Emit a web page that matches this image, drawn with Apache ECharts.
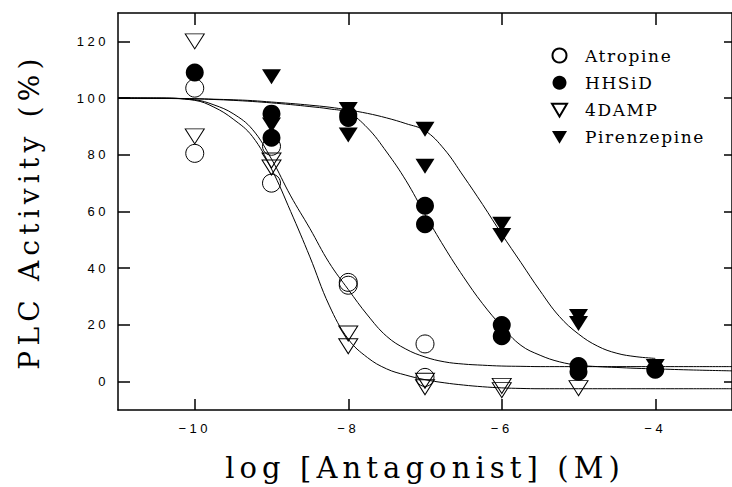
<!DOCTYPE html>
<html><head><meta charset="utf-8">
<script src="https://cdn.jsdelivr.net/npm/echarts@6/dist/echarts.min.js"></script>
<style>
html,body{margin:0;padding:0;background:#fff}
#c{width:732px;height:487px}
#c text[style*="29px"]{letter-spacing:5.1px}
#c text[style*="28px"]{letter-spacing:5.2px}
#c text[style*="17px"]{letter-spacing:1.6px}
#c text[style*="13px"]{letter-spacing:3.5px}
</style>
</head><body><div id="c"></div>
<script>
// ---- data ----
const xTicks = [-10, -8, -6, -4];
const yTicks = [0, 20, 40, 60, 80, 100, 120];
const seriesNames = ['Atropine', 'HHSiD', '4DAMP', 'Pirenzepine'];

const atropinePoints = [[-10,103.5],[-10,80.5],[-9,83],[-9,70],[-8,35],[-8,34],[-7,13.3],[-7,1.5]];
const hhsidPoints = [[-10,109],[-9,94.5],[-9,86],[-8,94],[-8,93],[-7,62],[-7,55.5],[-6,20],[-6,16],[-5,5.5],[-5,3.5],[-4,4.2]];
const damp4Points = [[-10,120],[-10,86.5],[-9,78],[-9,75.5],[-8,17],[-8,12.5],[-7,0.3],[-7,-2],[-6,-1.5],[-6,-3],[-5,-2.3]];
const pirenzepinePoints = [[-9,107.5],[-9,90.5],[-8,96],[-8,87],[-7,89],[-7,76],[-6,55.5],[-6,51.5],[-5,23],[-5,20.5],[-4,5.3]];

const curveX = [-11,-10.5,-10,-9.75,-9.5,-9.25,-9,-8.75,-8.5,-8.25,-8,-7.75,-7.5,-7.25,-7,-6.75,-6.5,-6.25,-6,-5.75,-5.5,-5.25,-5,-4.75,-4.5,-4.25,-4,-3.5,-3];
const atropineCurve = [100,100,99.4,97.6,94.5,89,78.5,65.5,54,42,32.5,23.5,16,11.5,8.7,7,6.2,5.8,5.5,5.4,5.3,5.3,5.3,5.3,5.3,5.3,5.3,5.3,5.3];
const damp4Curve = [100,100,99.2,96.8,92.6,86.5,75,60,44,27,15,8.5,4.5,2.3,0.7,-0.4,-1.2,-1.8,-2.2,-2.4,-2.5,-2.5,-2.5,-2.5,-2.5,-2.5,-2.5,-2.5,-2.5];
const hhsidCurve = [100,99.9,99.7,99.5,99.2,98.8,98.3,97.7,97,96.2,94.8,89.5,81,71,59,47.5,37,27.5,19.5,12.8,9.3,7.0,5.8,5.3,5.0,4.7,4.5,4.1,3.8];
const pirenzepineCurve = [100,99.9,99.8,99.6,99.4,99.1,98.6,98.1,97.5,96.8,95.8,94.6,93,91,88.5,82,72.5,62.5,52,42,32,23,16.8,12.5,10,8.8,8.2,null,null];

// ---- chart ----
const chart = echarts.init(document.getElementById('c'), null, {renderer: 'svg'});
const serif = '"DejaVu Serif", "Liberation Serif", serif';
const sans = '"Liberation Sans", Arial, sans-serif';
const axisLineStyle = {color: '#000', width: 1.5};
const tickStyle = {color: '#000', width: 1.5};
const downTriangle = 'path://M0,0L20,0L10,17Z';

function curve(name, ys) {
  return {
    name: name, type: 'line', xAxisIndex: 0, yAxisIndex: 0,
    data: curveX.map((x, i) => [x, ys[i]]),
    symbol: 'none', smooth: 0.4, connectNulls: false,
    lineStyle: {color: '#000', width: 1}, silent: true, z: 1
  };
}
const openStyle = {color: 'rgba(0,0,0,0)', borderColor: '#000', borderWidth: 1, opacity: 1};
const filledStyle = {color: '#000', borderColor: '#000', borderWidth: 0, opacity: 1};
function scatter(name, pts, symbol, size, rotate, style) {
  return {
    name: name, type: 'scatter', data: pts, symbol: symbol, symbolSize: size,
    symbolRotate: rotate, itemStyle: style, z: 3, silent: true
  };
}

const option = {
  animation: false,
  backgroundColor: '#fff',
  grid: {left: 118, right: -1, top: 13, bottom: 74, containLabel: false},
  xAxis: [{
    type: 'value', min: -11, max: -3, position: 'bottom',
    axisLine: {onZero: false, lineStyle: axisLineStyle},
    axisTick: {inside: true, length: 11, lineStyle: tickStyle, customValues: xTicks},
    axisLabel: {customValues: xTicks, formatter: v => (v < 0 ? '\u2212' : '') + Math.abs(v),
      color: '#000', fontFamily: sans, fontSize: 13, margin: 12},
    splitLine: {show: false},
    name: 'log [Antagonist] (M)', nameLocation: 'middle', nameGap: 43,
    nameTextStyle: {fontFamily: serif, fontSize: 29, color: '#000'}
  }, {
    type: 'value', min: -11, max: -3, position: 'top',
    axisLine: {onZero: false, lineStyle: axisLineStyle},
    axisTick: {inside: true, length: 12, lineStyle: tickStyle, customValues: xTicks},
    axisLabel: {show: false}, splitLine: {show: false}
  }],
  yAxis: [{
    type: 'value', min: -10, max: 130, position: 'left',
    axisLine: {onZero: false, lineStyle: axisLineStyle},
    axisTick: {inside: true, length: 12, lineStyle: tickStyle, customValues: yTicks},
    axisLabel: {customValues: yTicks, color: '#000', fontFamily: sans, fontSize: 13, margin: 9},
    splitLine: {show: false},
    name: 'PLC Activity (%)', nameLocation: 'middle', nameGap: 75, nameRotate: 90,
    nameTextStyle: {fontFamily: serif, fontSize: 28, color: '#000'}
  }, {
    type: 'value', min: -10, max: 130, position: 'right',
    axisLine: {onZero: false, lineStyle: axisLineStyle},
    axisTick: {inside: true, length: 8, lineStyle: tickStyle, customValues: yTicks},
    axisLabel: {show: false}, splitLine: {show: false}
  }],
  legend: {
    data: [
      {name: seriesNames[0], icon: 'circle'},
      {name: seriesNames[1], icon: 'circle'},
      {name: seriesNames[2], icon: downTriangle},
      {name: seriesNames[3], icon: downTriangle}
    ],
    orient: 'vertical', left: 546, top: 42,
    itemWidth: 15, itemHeight: 14, itemGap: 10.3,
    textStyle: {fontFamily: serif, fontSize: 17, color: '#000', padding: [0, 0, 0, 13]},
    selectedMode: false
  },
  series: [
    curve('Atropine fit', atropineCurve),
    curve('4DAMP fit', damp4Curve),
    curve('HHSiD fit', hhsidCurve),
    curve('Pirenzepine fit', pirenzepineCurve),
    scatter('Atropine', atropinePoints, 'circle', 18, 0, openStyle),
    scatter('HHSiD', hhsidPoints, 'circle', 18, 0, filledStyle),
    scatter('4DAMP', damp4Points, 'triangle', [19, 15], 180, openStyle),
    scatter('Pirenzepine', pirenzepinePoints, 'triangle', [19, 15], 180, filledStyle)
  ]
};
chart.setOption(option);
</script>
</body></html>
